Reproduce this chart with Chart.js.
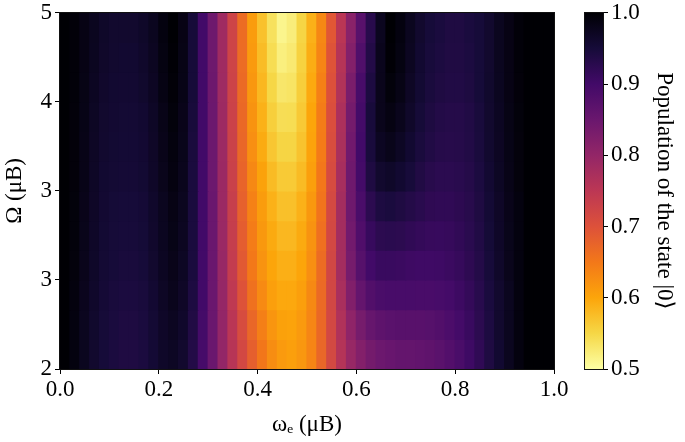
<!DOCTYPE html>
<html>
<head>
<meta charset="utf-8">
<script src="https://cdn.jsdelivr.net/npm/chart.js@4"></script>
<style>
  html, body { margin: 0; padding: 0; background: #fff; }
  #wrap { position: relative; width: 685px; height: 442px; }
  #mapBox { position: absolute; left: 0; top: 0; width: 580px; height: 442px; }
  #barBox { position: absolute; left: 560px; top: 0; width: 125px; height: 442px; }
</style>
</head>
<body>
<div id="wrap">
  <div id="mapBox"><canvas id="mapChart" width="580" height="442"></canvas></div>
  <div id="barBox"><canvas id="barChart" width="125" height="442"></canvas></div>
</div>
<script>
// column centres on the omega_e axis
const omegaE = [0.01, 0.03, 0.05, 0.07, 0.09, 0.11, 0.13, 0.15, 0.17, 0.19,
                0.21, 0.23, 0.25, 0.27, 0.29, 0.31, 0.33, 0.35, 0.37, 0.39,
                0.41, 0.43, 0.45, 0.47, 0.49, 0.51, 0.53, 0.55, 0.57, 0.59,
                0.61, 0.63, 0.65, 0.67, 0.69, 0.71, 0.73, 0.75, 0.77, 0.79,
                0.81, 0.83, 0.85, 0.87, 0.89, 0.91, 0.93, 0.95, 0.97, 0.99];

// Omega band edges, top to bottom
const omegaEdges = [5, 4.75, 4.5, 4.25, 4, 3.75, 3.5, 3.25, 3, 2.75, 2.5, 2.25, 2];

// population of |0>, one array per Omega band (top band first)
const popBand0 = [1.0, 0.995, 0.985, 0.975, 0.965, 0.96, 0.96, 0.96, 0.965, 0.975, 0.99,
  1.0, 0.985, 0.95, 0.90, 0.845, 0.785, 0.725, 0.665, 0.61, 0.572, 0.538, 0.512, 0.522, 0.552, 0.588, 0.632, 0.692, 0.752, 0.812, 0.872, 0.93, 0.975,
  1.0, 0.99, 0.975, 0.96, 0.95, 0.945, 0.94, 0.94, 0.945, 0.95, 0.96, 0.975, 0.985, 0.995, 1.0, 1.0, 1.0];
const popBand1 = [1.0, 0.995, 0.985, 0.974, 0.964, 0.959, 0.958, 0.958, 0.963, 0.973, 0.988,
  0.998, 0.984, 0.95, 0.90, 0.845, 0.785, 0.725, 0.666, 0.612, 0.577, 0.543, 0.52, 0.527, 0.555, 0.592, 0.636, 0.697, 0.758, 0.82, 0.882, 0.935, 0.977,
  0.998, 0.988, 0.973, 0.958, 0.948, 0.943, 0.939, 0.939, 0.943, 0.95, 0.96, 0.975, 0.985, 0.995, 1.0, 1.0, 1.0];
const popBand2 = [1.0, 0.995, 0.984, 0.972, 0.962, 0.958, 0.957, 0.957, 0.961, 0.971, 0.986,
  0.996, 0.983, 0.95, 0.90, 0.846, 0.786, 0.726, 0.668, 0.616, 0.582, 0.55, 0.531, 0.534, 0.559, 0.596, 0.641, 0.701, 0.763, 0.83, 0.892, 0.942, 0.978,
  0.993, 0.984, 0.969, 0.956, 0.946, 0.94, 0.937, 0.937, 0.941, 0.95, 0.961, 0.974, 0.985, 0.994, 1.0, 1.0, 1.0];
const popBand3 = [1.0, 0.994, 0.983, 0.97, 0.96, 0.957, 0.955, 0.955, 0.958, 0.968, 0.982,
  0.993, 0.98, 0.948, 0.90, 0.847, 0.788, 0.728, 0.67, 0.62, 0.588, 0.558, 0.542, 0.543, 0.564, 0.60, 0.645, 0.705, 0.77, 0.838, 0.898, 0.948, 0.978,
  0.987, 0.977, 0.964, 0.951, 0.941, 0.935, 0.933, 0.933, 0.937, 0.947, 0.96, 0.972, 0.984, 0.993, 1.0, 1.0, 1.0];
const popBand4 = [1.0, 0.994, 0.982, 0.969, 0.959, 0.956, 0.954, 0.954, 0.957, 0.967, 0.98,
  0.991, 0.979, 0.946, 0.90, 0.848, 0.789, 0.729, 0.672, 0.625, 0.594, 0.567, 0.552, 0.552, 0.57, 0.602, 0.647, 0.707, 0.772, 0.842, 0.90, 0.947, 0.972,
  0.979, 0.97, 0.958, 0.946, 0.937, 0.932, 0.931, 0.932, 0.936, 0.946, 0.959, 0.971, 0.983, 0.992, 1.0, 1.0, 1.0];
const popBand5 = [1.0, 0.994, 0.982, 0.968, 0.958, 0.955, 0.953, 0.953, 0.956, 0.966, 0.978,
  0.989, 0.977, 0.945, 0.90, 0.848, 0.79, 0.731, 0.676, 0.632, 0.603, 0.578, 0.563, 0.563, 0.578, 0.607, 0.651, 0.711, 0.776, 0.845, 0.898, 0.94, 0.96,
  0.965, 0.958, 0.949, 0.938, 0.93, 0.926, 0.926, 0.928, 0.933, 0.943, 0.957, 0.97, 0.982, 0.992, 1.0, 1.0, 1.0];
const popBand6 = [1.0, 0.993, 0.98, 0.967, 0.957, 0.952, 0.95, 0.95, 0.953, 0.963, 0.975,
  0.985, 0.975, 0.945, 0.90, 0.85, 0.79, 0.735, 0.68, 0.64, 0.61, 0.588, 0.573, 0.573, 0.588, 0.614, 0.655, 0.715, 0.78, 0.845, 0.89, 0.925, 0.942,
  0.945, 0.94, 0.934, 0.928, 0.922, 0.92, 0.92, 0.924, 0.93, 0.94, 0.954, 0.967, 0.98, 0.99, 1.0, 1.0, 1.0];
const popBand7 = [1.0, 0.993, 0.979, 0.966, 0.956, 0.951, 0.949, 0.949, 0.952, 0.962, 0.974,
  0.983, 0.973, 0.945, 0.90, 0.85, 0.792, 0.737, 0.685, 0.645, 0.615, 0.595, 0.582, 0.582, 0.595, 0.62, 0.66, 0.717, 0.78, 0.84, 0.883, 0.912, 0.925,
  0.927, 0.925, 0.92, 0.916, 0.913, 0.912, 0.914, 0.919, 0.927, 0.937, 0.952, 0.966, 0.979, 0.99, 1.0, 1.0, 1.0];
const popBand8 = [1.0, 0.992, 0.978, 0.965, 0.955, 0.95, 0.947, 0.947, 0.95, 0.96, 0.972,
  0.98, 0.97, 0.945, 0.90, 0.85, 0.795, 0.74, 0.69, 0.65, 0.62, 0.60, 0.59, 0.59, 0.60, 0.625, 0.665, 0.72, 0.78, 0.835, 0.875, 0.90, 0.91,
  0.91, 0.908, 0.905, 0.903, 0.903, 0.904, 0.908, 0.914, 0.923, 0.934, 0.949, 0.964, 0.978, 0.99, 1.0, 1.0, 1.0];
const popBand9 = [1.0, 0.991, 0.976, 0.963, 0.953, 0.947, 0.944, 0.944, 0.947, 0.957, 0.969,
  0.977, 0.967, 0.942, 0.90, 0.85, 0.798, 0.746, 0.699, 0.659, 0.63, 0.607, 0.597, 0.597, 0.607, 0.631, 0.668, 0.72, 0.773, 0.822, 0.858, 0.88, 0.89,
  0.893, 0.893, 0.892, 0.891, 0.891, 0.894, 0.898, 0.906, 0.916, 0.929, 0.945, 0.96, 0.975, 0.99, 1.0, 1.0, 1.0];
const popBand10 = [1.0, 0.99, 0.975, 0.961, 0.951, 0.945, 0.941, 0.941, 0.945, 0.955, 0.966,
  0.973, 0.963, 0.938, 0.898, 0.85, 0.80, 0.752, 0.71, 0.672, 0.642, 0.618, 0.605, 0.602, 0.612, 0.635, 0.67, 0.717, 0.765, 0.805, 0.835, 0.855, 0.865,
  0.87, 0.872, 0.872, 0.872, 0.875, 0.88, 0.887, 0.897, 0.91, 0.925, 0.942, 0.96, 0.975, 0.99, 1.0, 1.0, 1.0];
const popBand11 = [1.0, 0.99, 0.975, 0.96, 0.95, 0.944, 0.94, 0.94, 0.944, 0.954, 0.965,
  0.97, 0.96, 0.935, 0.895, 0.85, 0.80, 0.756, 0.717, 0.682, 0.652, 0.627, 0.612, 0.607, 0.616, 0.636, 0.672, 0.716, 0.76, 0.795, 0.82, 0.838, 0.848,
  0.853, 0.857, 0.858, 0.86, 0.864, 0.87, 0.879, 0.89, 0.904, 0.92, 0.94, 0.958, 0.975, 0.99, 1.0, 1.0, 1.0];

const popBands = [popBand0, popBand1, popBand2, popBand3, popBand4, popBand5,
                  popBand6, popBand7, popBand8, popBand9, popBand10, popBand11];

// tick labels as printed on the figure
const xTickValues = [0, 0.2, 0.4, 0.6, 0.8, 1.0];
const yTickValues = [2, 2.75, 3.5, 4.25, 5];
const yTickLabels = ['2', '3', '3', '4', '5'];
const cbarTicks = [0.5, 0.6, 0.7, 0.8, 0.9, 1.0];

// inferno, dark end first
const inferno = ['#000004', '#160b39', '#420a68', '#6a176e', '#932667', '#bc3754',
                 '#dd513a', '#f37819', '#fca50a', '#f6d746', '#fcffa4'];

function hexRgb(h) {
  return [parseInt(h.slice(1, 3), 16), parseInt(h.slice(3, 5), 16), parseInt(h.slice(5, 7), 16)];
}
// value 1.0 -> black, 0.5 -> pale yellow
function popColor(v) {
  let t = (1 - v) / 0.5;
  t = Math.max(0, Math.min(1, t)) * 10;
  const i = Math.min(9, Math.floor(t));
  const f = t - i;
  const a = hexRgb(inferno[i]), b = hexRgb(inferno[i + 1]);
  const c = a.map((av, k) => Math.round(av + (b[k] - av) * f));
  return 'rgb(' + c.join(',') + ')';
}

const serif = "'Liberation Serif', 'DejaVu Serif', serif";
Chart.defaults.font.family = serif;
Chart.defaults.color = '#000';

const framePlugin = {
  id: 'frame',
  afterDatasetsDraw(chart) {
    const a = chart.chartArea;
    const ctx = chart.ctx;
    ctx.save();
    ctx.strokeStyle = '#111';
    ctx.lineWidth = 1;
    ctx.strokeRect(Math.round(a.left) - 0.5, Math.round(a.top) - 0.5,
                   Math.round(a.right - a.left) + 1, Math.round(a.bottom - a.top) + 1);
    ctx.restore();
  }
};

// heat map: one floating-bar dataset per Omega band
var mapCtx = document.getElementById('mapChart').getContext('2d');
var mapChart = new Chart(mapCtx, {
  type: 'bar',
  data: {
    datasets: popBands.map((vals, r) => ({
      data: omegaE.map(x => ({x: x, y: [omegaEdges[r + 1], omegaEdges[r]]})),
      backgroundColor: vals.map(popColor),
      borderWidth: 0,
      inflateAmount: 0.6,
      grouped: false,
      barPercentage: 1,
      categoryPercentage: 1
    }))
  },
  options: {
    responsive: false,
    animation: false,
    events: [],
    layout: { padding: { top: 10, right: 26, left: 0, bottom: 0 } },
    plugins: { legend: { display: false }, tooltip: { enabled: false } },
    scales: {
      x: {
        type: 'linear',
        min: 0, max: 1,
        offset: false,
        afterBuildTicks: s => { s.ticks = xTickValues.map(v => ({value: v})); },
        afterFit: s => { s.height = 73; },
        ticks: { font: { size: 23 }, color: '#000', padding: 2, maxRotation: 0,
                 callback: v => Number(v).toFixed(1) },
        grid: { drawOnChartArea: false, offset: false, tickLength: 5, color: '#000' },
        border: { display: true, color: '#000' },
        title: { display: true, text: 'ωₑ (μB)', font: { size: 23 }, color: '#000',
                 padding: { top: 0, bottom: 3 } }
      },
      y: {
        type: 'linear',
        min: 2, max: 5,
        afterBuildTicks: s => { s.ticks = yTickValues.map(v => ({value: v})); },
        afterFit: s => { s.width = 60; },
        ticks: { font: { size: 23, lineHeight: 0.85 }, color: '#000', padding: 3,
                 callback: (v, i) => yTickLabels[i] },
        grid: { drawOnChartArea: false, tickLength: 5, color: '#000' },
        border: { display: true, color: '#000' },
        title: { display: true, text: 'Ω (μB)', font: { size: 23 }, color: '#000',
                 padding: { top: 1, bottom: 0 } }
      }
    }
  },
  plugins: [framePlugin]
});

// colour bar
var barCtx = document.getElementById('barChart').getContext('2d');
var barChart = new Chart(barCtx, {
  type: 'bar',
  data: {
    labels: ['cbar'],
    datasets: [{
      data: [[0.5, 1.0]],
      backgroundColor: ctx => {
        const a = ctx.chart.chartArea;
        if (!a) return '#000';
        const g = ctx.chart.ctx.createLinearGradient(0, a.bottom, 0, a.top);
        for (let k = 0; k <= 10; k++) g.addColorStop(k / 10, inferno[10 - k]);
        return g;
      },
      borderWidth: 0,
      barPercentage: 1,
      categoryPercentage: 1
    }]
  },
  options: {
    responsive: false,
    animation: false,
    events: [],
    layout: { padding: { top: 10, right: 0, left: 25, bottom: 73 } },
    plugins: { legend: { display: false }, tooltip: { enabled: false } },
    scales: {
      x: { display: false },
      y: {
        position: 'right',
        min: 0.5, max: 1.0,
        afterBuildTicks: s => { s.ticks = cbarTicks.map(v => ({value: v})); },
        afterFit: s => { s.width = 82; },
        ticks: { font: { size: 23, lineHeight: 0.85 }, color: '#000', padding: 3,
                 callback: v => Number(v).toFixed(1) },
        grid: { drawOnChartArea: false, tickLength: 5, color: '#000' },
        border: { display: true, color: '#000' },
        title: { display: true, text: 'Population of the state |0⟩', font: { size: 23 },
                 color: '#000', padding: { top: 7, bottom: 0 } }
      }
    }
  },
  plugins: [framePlugin]
});
</script>
</body>
</html>
